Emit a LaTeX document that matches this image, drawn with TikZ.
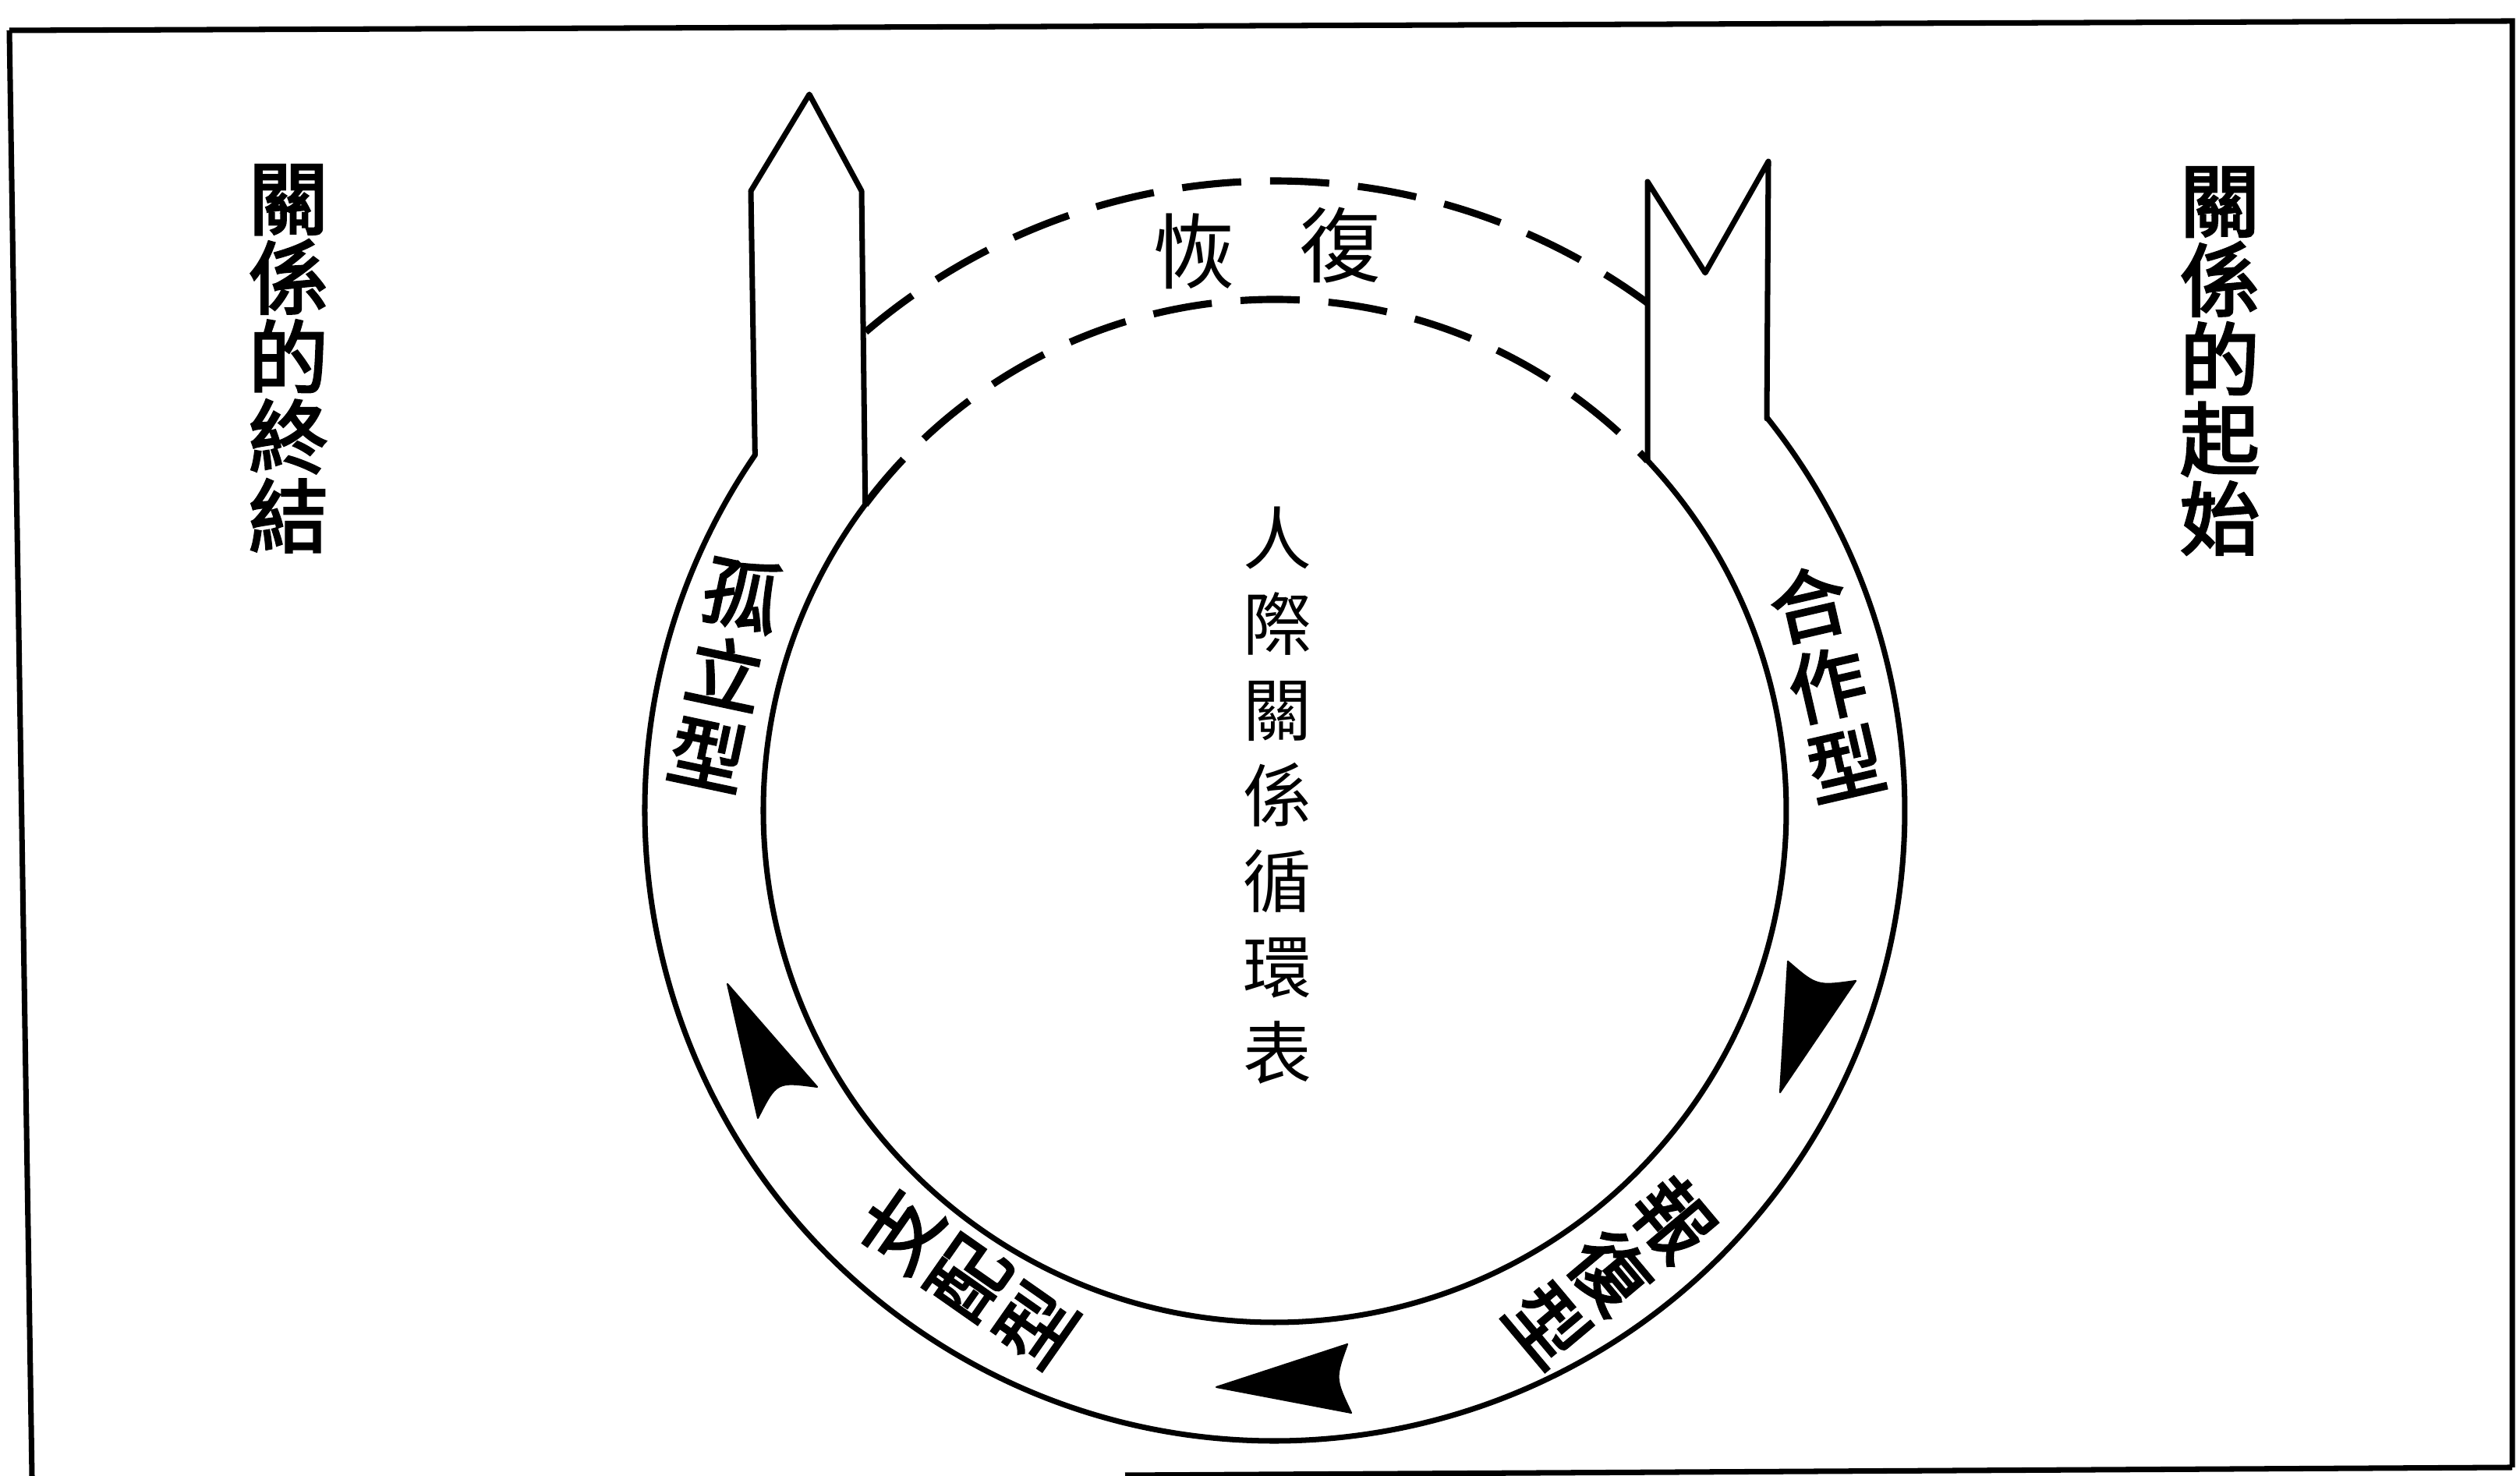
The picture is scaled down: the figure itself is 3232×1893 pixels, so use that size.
\documentclass[tikz,border=0pt]{standalone}
\usepackage{fontspec}
\newfontfamily\cjk{Noto Sans CJK TC}
\newfontfamily\cjkm{Noto Sans CJK TC}[FakeBold=3]
\usetikzlibrary{calc}
\begin{document}
\begin{tikzpicture}[x=0.1mm,y=0.1mm,
  ringline/.style={line width=2pt, line join=round, line cap=round},
  dashline/.style={line width=2.6pt, dash pattern=on 7.6mm off 3.7mm},
  frameline/.style={line width=2pt},
  tri/.style={fill=black, draw=black, line width=0.6pt, line join=round},
  lab/.style={font={\cjkm\fontsize{28pt}{30pt}\selectfont}, inner sep=0pt, align=center},
  side/.style={font={\cjkm\fontsize{29pt}{29pt}\selectfont}, inner sep=0pt, align=center},
  mid/.style={font={\cjk\fontsize{25pt}{31.3pt}\selectfont}, inner sep=0pt, align=center},
  arctext/.style={font={\cjk\fontsize{30pt}{30pt}\selectfont}, inner sep=0pt}
]
\useasboundingbox (0,0) rectangle (3232,1893);
% frame
\draw[frameline] (12,1854) -- (3222,1866) -- (3222,11);
\draw[frameline] (12,1854) -- (41,0);
\draw[frameline] (1443,1) -- (3222,11);

\coordinate (C) at (1635,853);
% ring (solid part)
\draw[ringline] ($(C)+(145.6:808)$) arc[start angle=145.6, end angle=398.5, radius=808];
\draw[ringline] ($(C)+(143.2:656)$) arc[start angle=143.2, end angle=403.2, radius=656];
% dashed return arcs
\draw[dashline] ($(C)+(130.5:808)$) arc[start angle=130.5, end angle=53.7, radius=808];
\draw[dashline] ($(C)+(143.2:656)$) arc[start angle=143.2, end angle=43.2, radius=656];
% towers
\draw[ringline] ($(C)+(145.6:808)$) -- (963,1648) -- (1038,1772) -- (1105,1648) -- ($(C)+(143.2:656)$);
\draw[ringline] ($(C)+(43.2:656)$) -- (2113,1660) -- (2187,1543) -- (2268,1686) -- (2266,1356) -- ($(C)+(38.5:808)$);

% arrowheads
\fill[tri] (2293,660) .. controls (2330,628) .. (2380,635) -- (2283,492) -- cycle;
\fill[tri] (1728,169) .. controls (1712,125) .. (1733,81) -- (1560,114) -- cycle;
\fill[tri] (1048,499) .. controls (996,506) .. (972,459) -- (933,631) -- cycle;

% side texts
\node[side] (endtxt) at (370,1433) {關\\係\\的\\終\\結};
\node[side] (starttxt) at (2847,1430) {關\\係\\的\\起\\始};
% center
\node[mid] (title) at (1638,873) {人\\際\\關\\係\\循\\環\\表};
% recovery
\node[arctext] (hui) at (1531,1571) {恢};
\node[arctext] (fu) at (1719,1578) {復};

% ring labels
\node[lab, rotate=-12] (gu) at (930,1030) {孤\\立\\型};
\node[lab, rotate=13] (he) at (2343,1017) {合\\作\\型};
\node[lab, rotate=-50] (bao) at (2067,263) {報\\復\\型};
\node[lab, rotate=55] (zhi) at (1240,256) {支\\配\\型};
\end{tikzpicture}
\end{document}
